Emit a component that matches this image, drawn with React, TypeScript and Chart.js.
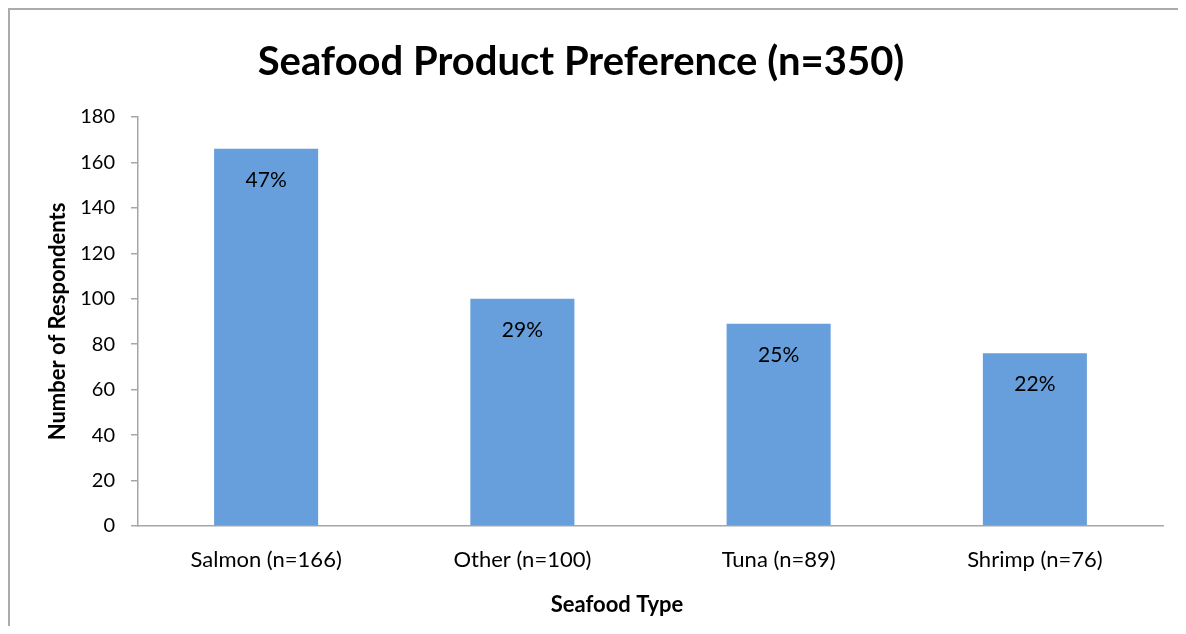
import React, { useEffect, useRef } from "react";
import { Chart, registerables } from "chart.js";

Chart.register(...registerables);

const categories = ["Salmon (n=166)", "Other (n=100)", "Tuna (n=89)", "Shrimp (n=76)"];
const respondents = [166, 100, 89, 76];
const percentLabels = ["47%", "29%", "25%", "22%"];
const yTicks = [0, 20, 40, 60, 80, 100, 120, 140, 160, 180];
const chartTitle = "Seafood Product Preference (n=350)";
const xTitle = "Seafood Type";
const yTitle = "Number of Respondents";

const FONT = "Lato, 'Open Sans', sans-serif";

const textPlugin = {
  id: "excelText",
  afterDatasetsDraw(chart: any) {
    const ctx = chart.ctx;
    const meta = chart.getDatasetMeta(0);
    ctx.save();
    ctx.fillStyle = "#000";
    ctx.textAlign = "center";
    ctx.textBaseline = "middle";
    ctx.font = `21px ${FONT}`;
    meta.data.forEach((bar: any, i: number) => {
      ctx.fillText(percentLabels[i], bar.x, bar.y + 31);
    });
    ctx.restore();
  },
  afterDraw(chart: any) {
    const ctx = chart.ctx;
    ctx.save();
    ctx.fillStyle = "#000";
    ctx.textAlign = "center";
    ctx.textBaseline = "middle";
    ctx.font = `bold 40px ${FONT}`;
    ctx.fillText(chartTitle, 571, 52);
    ctx.font = `bold 22px ${FONT}`;
    ctx.fillText(xTitle, 607, 595);
    ctx.font = `bold 22px ${FONT}`;
    ctx.translate(48, chart.chartArea.top + (chart.chartArea.bottom - chart.chartArea.top) / 2);
    ctx.rotate(-Math.PI / 2);
    ctx.fillText(yTitle, 0, 0);
    ctx.restore();
  },
};

export default function App() {
  const ref = useRef<HTMLCanvasElement | null>(null);
  useEffect(() => {
    if (!ref.current) return;
    document.body.style.overflow = "hidden";
    const chart = new Chart(ref.current, {
      type: "bar",
      data: {
        labels: categories,
        datasets: [
          {
            data: respondents,
            backgroundColor: "#679fdc",
            borderWidth: 0,
            barPercentage: 0.406,
            categoryPercentage: 1,
          },
        ],
      },
      options: {
        responsive: false,
        animation: false,
        layout: { padding: { top: 107, right: 23, left: 0, bottom: 0 } },
        plugins: {
          legend: { display: false },
          title: { display: false },
          tooltip: { enabled: false },
        },
        scales: {
          x: {
            grid: { display: false, drawTicks: false },
            border: { color: "#a6a6a6", width: 1.5 },
            ticks: { color: "#000", font: { family: FONT, size: 22 }, padding: 21, maxRotation: 0 },
            afterFit: (s: any) => {
              s.height = 100;
            },
          },
          y: {
            min: 0,
            max: 180,
            afterBuildTicks: (s: any) => {
              s.ticks = yTicks.map((v) => ({ value: v }));
            },
            grid: { drawOnChartArea: false, drawTicks: true, tickLength: 7, color: "#a6a6a6", lineWidth: 1.5 },
            border: { color: "#a6a6a6", width: 1.5 },
            ticks: { color: "#000", font: { family: FONT, size: 20 }, padding: 16 },
            afterFit: (s: any) => {
              s.width = 128;
            },
          },
        },
      },
      plugins: [textPlugin],
    });
    return () => chart.destroy();
  }, []);
  return (
    <div
      style={{
        width: 1178,
        height: 618,
        borderTop: "2px solid #ababab",
        borderLeft: "2px solid #ababab",
        boxSizing: "border-box",
        background: "#fff",
      }}
    >
      <canvas ref={ref} width={1176} height={616} style={{ display: "block" }} />
    </div>
  );
}
